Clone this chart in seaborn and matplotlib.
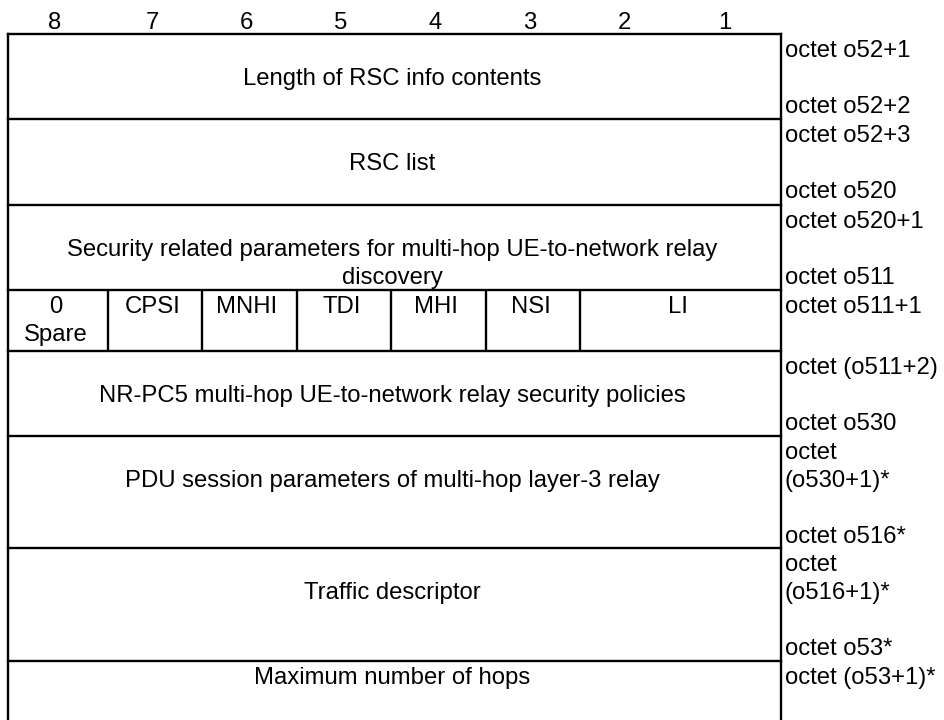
import numpy as np
import matplotlib
matplotlib.use("Agg")
import matplotlib.pyplot as plt
import seaborn as sns

# bit numbers over the octet columns
bits = ["8", "7", "6", "5", "4", "3", "2", "1"]

# text in each row of the table (leading "\n" = text sits on the 2nd line)
fields = [
    "\nLength of RSC info contents",
    "\nRSC list",
    "\nSecurity related parameters for multi-hop UE-to-network relay\ndiscovery",
    None,
    "\nNR-PC5 multi-hop UE-to-network relay security policies",
    "\nPDU session parameters of multi-hop layer-3 relay",
    "\nTraffic descriptor",
    "Maximum number of hops",
]

# the flag octet, split into bit fields
flags = ["0\nSpare", "CPSI", "MNHI", "TDI", "MHI", "NSI", "LI"]
flag_bits = [1, 1, 1, 1, 1, 1, 2]

# octet labels on the right of each row
octets = [
    "octet o52+1\n\noctet o52+2",
    "octet o52+3\n\noctet o520",
    "octet o520+1\n\noctet o511",
    "octet o511+1",
    "octet (o511+2)\n\noctet o530",
    "octet\n(o530+1)*\n\noctet o516*",
    "octet\n(o516+1)*\n\noctet o53*",
    "octet (o53+1)*",
]

# layout (pixels)
row_h = [85, 86, 85, 61, 85, 112, 113, 85]
top = 34
col_edges = [8, 108, 202, 297, 391, 486, 580, 675, 781]
first_line, pitch = 23, 28
fs = 17.2
lw = 1.7

sns.set_theme(style="white")
plt.rcParams["font.family"] = ["Liberation Sans", "DejaVu Sans"]

fig = plt.figure(figsize=(9.45, 7.2), dpi=100)
ax = fig.add_axes([0, 0, 1, 1])
ax.set_xlim(0, 945)
ax.set_ylim(720, 0)
ax.axis("off")

edges = top + np.concatenate([[0], np.cumsum(row_h)])
left, right = col_edges[0], col_edges[-1]
mid = (left + right) / 2 - 2.5


def put(x, y0, text, ha="center"):
    for k, line in enumerate(text.split("\n")):
        if line:
            ax.text(x, y0 + first_line + pitch * k, line, ha=ha, va="baseline",
                    fontsize=fs, color="black")


# frame and row separators
ax.vlines([left, right], top, 720, color="black", lw=lw, capstyle="projecting")
ax.hlines(edges[:len(fields)], left, right, color="black", lw=lw, capstyle="projecting")

# bit numbers
for i, b in enumerate(bits):
    cx = (col_edges[i] + col_edges[i + 1]) / 2 - 3
    ax.text(cx, 29, b, ha="center", va="baseline", fontsize=fs, color="black")

for r, (txt, lab) in enumerate(zip(fields, octets)):
    y0 = edges[r]
    put(right + 4, y0, lab, ha="left")
    if txt is not None:
        put(mid, y0, txt)
    else:
        pos = np.concatenate([[0], np.cumsum(flag_bits)])
        ax.vlines([col_edges[p] for p in pos[1:-1]], y0, edges[r + 1],
                  color="black", lw=lw)
        for f, a, b in zip(flags, pos[:-1], pos[1:]):
            cx = (col_edges[a] + col_edges[b]) / 2 - 2.5
            put(cx, y0, f)

fig.savefig("out.png", dpi=100, facecolor="white")
